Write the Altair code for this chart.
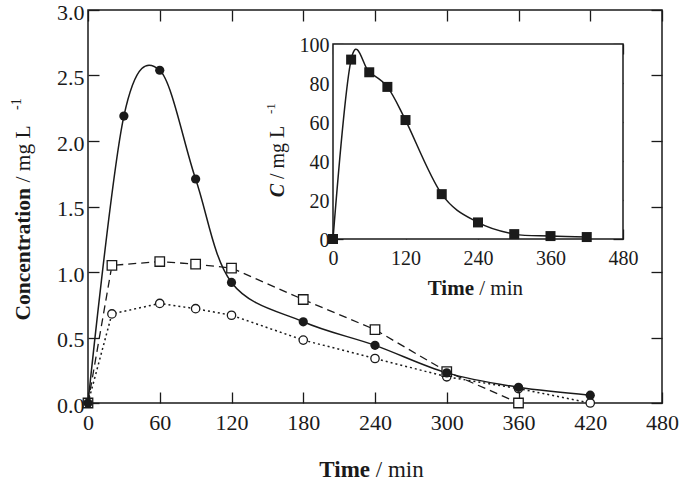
import altair as alt
import pandas as pd

# ---------------- data ----------------
t_filled = [0, 30, 60, 90, 120, 180, 240, 300, 360, 420]
c_filled = [0.0, 2.19, 2.54, 1.71, 0.92, 0.62, 0.44, 0.23, 0.12, 0.06]

t_open_sq = [0, 20, 60, 90, 120, 180, 240, 300, 360]
c_open_sq = [0.0, 1.05, 1.08, 1.06, 1.03, 0.79, 0.56, 0.24, 0.0]

t_open_ci = [0, 20, 60, 90, 120, 180, 240, 300, 360, 420]
c_open_ci = [0.0, 0.68, 0.76, 0.72, 0.67, 0.48, 0.34, 0.20, 0.11, 0.0]

t_inset = [0, 30, 60, 90, 120, 180, 240, 300, 360, 420]
c_inset = [0.0, 92.0, 85.5, 78.0, 61.0, 23.0, 8.5, 2.5, 1.5, 1.0]

main_x_ticks = [0, 60, 120, 180, 240, 300, 360, 420, 480]
main_y_ticks = [0.0, 0.5, 1.0, 1.5, 2.0, 2.5, 3.0]
inset_x_ticks = [0, 120, 240, 360, 480]
inset_y_ticks = [0, 20, 40, 60, 80, 100]

main_y_title = ["Concentration", "/ mg L", "-1"]
main_x_title = ["Time", "/ min"]
inset_y_title = ["C", "/ mg L", "-1"]
inset_x_title = ["Time", "/ min"]

df_f = pd.DataFrame({"t": t_filled, "c": c_filled})
df_s = pd.DataFrame({"t": t_open_sq, "c": c_open_sq})
df_o = pd.DataFrame({"t": t_open_ci, "c": c_open_ci})
df_i = pd.DataFrame({"t": t_inset, "c": c_inset})

# ---------------- layout ----------------
W, H = 574, 393
PL, PT = 88, 10
FONT = "Liberation Serif"
INK = "#1a1a1a"

IX0, IX1 = 245, 535   # inset horizontal extent inside the plot
IY0, IY1 = 229, 34    # inset vertical extent (bottom, top)
MT = 11               # main tick length
IT = 10               # inset tick length


def mx():
    return alt.Scale(domain=[0, 480], nice=False, zero=False)


def my():
    return alt.Scale(domain=[0, 3], nice=False, zero=False)


def ix():
    return alt.Scale(domain=[0, 480], range=[IX0, IX1], nice=False, zero=False)


def iy():
    return alt.Scale(domain=[0, 100], range=[IY0, IY1], nice=False, zero=False)


def ax(orient, values, tick, offset, labels=True, size=22, pad=10, fmt=None, loff=0):
    kw = dict(orient=orient, values=values, tickSize=tick, offset=offset,
              domain=False, grid=False, labels=labels, ticks=True,
              tickColor=INK, tickWidth=1.3, labelFont=FONT,
              labelFontSize=size, labelColor=INK, labelPadding=pad,
              labelOverlap=False, labelFlush=False, labelBound=False,
              labelOffset=loff)
    if fmt:
        kw["format"] = fmt
    return alt.Axis(**kw)


# ---------------- main plot ----------------
line_f = alt.Chart(df_f).mark_line(interpolate="cardinal", tension=0, color=INK, strokeWidth=1.5).encode(
    x=alt.X("t:Q", scale=mx(), title=None, axis=ax("bottom", main_x_ticks, MT, -MT, pad=9)),
    y=alt.Y("c:Q", scale=my(), title=None,
            axis=ax("left", main_y_ticks, MT, -MT, pad=4, fmt=".1f", loff=2)),
)
line_s = alt.Chart(df_s).mark_line(color=INK, strokeWidth=1.3, strokeDash=[8, 5]).encode(
    x=alt.X("t:Q", scale=mx(), title=None, axis=ax("top", main_x_ticks, MT, -MT, labels=False)),
    y=alt.Y("c:Q", scale=my(), title=None, axis=ax("right", main_y_ticks, MT, -MT, labels=False)),
)
line_o = alt.Chart(df_o).mark_line(color=INK, strokeWidth=1.5, strokeDash=[2, 3]).encode(
    x=alt.X("t:Q", scale=mx(), axis=None),
    y=alt.Y("c:Q", scale=my(), axis=None),
)
pts_o = alt.Chart(df_o).mark_point(shape="circle", filled=True, fill="white", stroke=INK,
                                   strokeWidth=1.3, size=70, opacity=1).encode(
    x=alt.X("t:Q", scale=mx(), axis=None),
    y=alt.Y("c:Q", scale=my(), axis=None),
)
pts_s = alt.Chart(df_s).mark_point(shape="square", filled=True, fill="white", stroke=INK,
                                   strokeWidth=1.3, size=90, opacity=1).encode(
    x=alt.X("t:Q", scale=mx(), axis=None),
    y=alt.Y("c:Q", scale=my(), axis=None),
)
pts_f = alt.Chart(df_f).mark_point(shape="circle", filled=True, color=INK, size=85, opacity=1).encode(
    x=alt.X("t:Q", scale=mx(), axis=None),
    y=alt.Y("c:Q", scale=my(), axis=None),
)

# ---------------- inset ----------------
frame = alt.Chart(pd.DataFrame({"d": [0]})).mark_rect(fill="white", stroke=INK, strokeWidth=1.5).encode(
    x=alt.X(datum=0, type="quantitative", scale=ix(), title=None,
            axis=ax("bottom", inset_x_ticks, IT, IY0 - IT - H, size=20, pad=9)),
    x2=alt.X2(datum=480),
    y=alt.Y(datum=0, type="quantitative", scale=iy(), title=None,
            axis=ax("left", inset_y_ticks, IT, -(IX0 + IT), size=20, pad=4, loff=1)),
    y2=alt.Y2(datum=100),
)
line_i = alt.Chart(df_i).mark_line(interpolate="cardinal", tension=0, color=INK, strokeWidth=1.5).encode(
    x=alt.X("t:Q", scale=ix(), title=None,
            axis=ax("top", inset_x_ticks, IT, -(IY1 + IT), labels=False)),
    y=alt.Y("c:Q", scale=iy(), title=None,
            axis=ax("right", inset_y_ticks, IT, IX1 - IT - W, labels=False)),
)
pts_i = alt.Chart(df_i).mark_point(shape="square", filled=True, color=INK, size=100, opacity=1).encode(
    x=alt.X("t:Q", scale=ix(), axis=None),
    y=alt.Y("c:Q", scale=iy(), axis=None),
)


# ---------------- titles (mixed bold / regular text) ----------------
def txt(s, x, y, size, weight="normal", style="normal", angle=0, align="left", dx=0):
    return alt.Chart(pd.DataFrame({"s": [s]})).mark_text(
        font=FONT, fontSize=size, fontWeight=weight, fontStyle=style, angle=angle,
        align=align, baseline="alphabetic", color=INK, dx=dx,
    ).encode(x=alt.value(x), y=alt.value(y), text="s:N")


titles = [
    # main y title (reads upward)
    txt(main_y_title[0], 30 - PL, 188 - PT, 21.5, weight="bold", angle=270, align="right"),
    txt(main_y_title[1], 30 - PL, 188 - PT, 21.5, angle=270, align="left", dx=5.4),
    txt(main_y_title[2], 21 - PL, 110 - PT, 14, angle=270, align="left"),
    # main x title
    txt(main_x_title[0], 370 - PL, 477 - PT, 23, weight="bold", align="right"),
    txt(main_x_title[1], 370 - PL, 477 - PT, 23, align="left", dx=5.75),
    # inset y title
    txt(inset_y_title[0], 284 - PL, 184 - PT, 20, weight="bold", style="italic", angle=270, align="right"),
    txt(inset_y_title[1], 284 - PL, 184 - PT, 20, angle=270, align="left", dx=5),
    txt(inset_y_title[2], 275 - PL, 114 - PT, 13, angle=270, align="left"),
    # inset x title
    txt(inset_x_title[0], 474 - PL, 295 - PT, 21, weight="bold", align="right"),
    txt(inset_x_title[1], 474 - PL, 295 - PT, 21, align="left", dx=5.25),
]

chart = alt.layer(
    line_o, line_s, line_f, pts_o, pts_s, pts_f,
    frame, line_i, pts_i, *titles,
).resolve_scale(
    x="independent", y="independent"
).properties(
    width=W, height=H,
    padding={"left": PL, "top": PT, "right": 689 - PL - W, "bottom": 481 - PT - H},
    autosize=alt.AutoSizeParams(type="none"),
    background="white",
).configure_view(
    stroke=INK, strokeWidth=1.5
)

chart.save("out.html", embed_options={"renderer": "svg", "actions": False})
